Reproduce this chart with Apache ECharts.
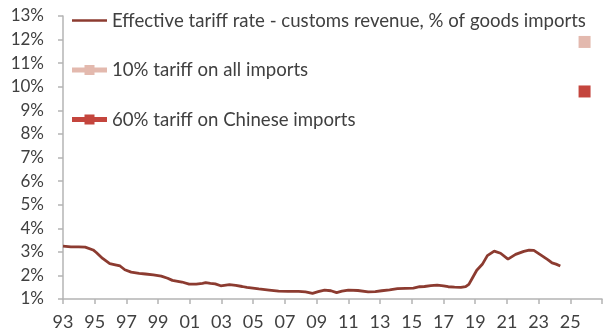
<!DOCTYPE html>
<html>
<head>
<meta charset="utf-8">
<script src="https://cdn.jsdelivr.net/npm/echarts@6/dist/echarts.min.js"></script>
<style>
  html, body { margin: 0; padding: 0; background: #ffffff; }
  #chart { width: 605px; height: 336px; }
</style>
</head>
<body>
<div id="chart"></div>
<script>
// Effective US tariff rate (customs revenue as % of goods imports), by year fraction
const rateYears = [
  1993.0, 1993.5, 1994.0, 1994.4, 1994.9, 1995.1, 1995.5, 1995.95, 1996.3, 1996.6,
  1996.9, 1997.3, 1997.8, 1998.2, 1998.7, 1999.2, 1999.6, 1999.9, 2000.5, 2000.96,
  2001.4, 2001.8, 2002.0, 2002.3, 2002.6, 2002.95, 2003.5, 2003.9, 2004.3, 2004.6,
  2005.35, 2006.0, 2006.6, 2007.2, 2007.86, 2008.3, 2008.74, 2009.1, 2009.5, 2009.9,
  2010.26, 2010.6, 2011.0, 2011.6, 2012.25, 2012.7, 2013.1, 2013.6, 2014.1, 2014.6,
  2015.1, 2015.5, 2015.8, 2016.2, 2016.6, 2017.0, 2017.3, 2017.7, 2018.1, 2018.4,
  2018.6, 2018.8, 2019.1, 2019.45, 2019.77, 2020.2, 2020.6, 2021.07, 2021.55, 2022.07,
  2022.4, 2022.7, 2023.2, 2023.6, 2023.85, 2024.1, 2024.37
];
const rateValues = [
  3.24, 3.21, 3.21, 3.20, 3.08, 2.97, 2.72, 2.50, 2.45, 2.40,
  2.24, 2.14, 2.09, 2.06, 2.02, 1.97, 1.88, 1.79, 1.72, 1.63,
  1.63, 1.66, 1.69, 1.66, 1.64, 1.56, 1.61, 1.58, 1.53, 1.49,
  1.43, 1.38, 1.33, 1.32, 1.32, 1.30, 1.24, 1.31, 1.38, 1.35,
  1.27, 1.33, 1.38, 1.36, 1.30, 1.31, 1.35, 1.39, 1.44, 1.45,
  1.46, 1.52, 1.53, 1.57, 1.59, 1.56, 1.52, 1.50, 1.49, 1.52,
  1.62, 1.86, 2.22, 2.47, 2.84, 3.03, 2.94, 2.69, 2.89, 3.02,
  3.07, 3.06, 2.84, 2.66, 2.53, 2.48, 2.40
];

// Scenario estimates
const scenarioYear = 2025.9;
const allImportsValue = 11.9;
const chinaImportsValue = 9.8;

const seriesNames = [
  'Effective tariff rate - customs revenue, % of goods imports',
  '10% tariff on all imports',
  '60% tariff on Chinese imports'
];

// Axis settings
const xMin = 1993, xMax = 2027, xStep = 2;
const yMin = 1, yMax = 13, yStep = 1;

const textColor = '#404040';
const axisColor = '#b4b4b4';
const fontFamily = 'Lato, "DejaVu Sans", sans-serif';

const chart = echarts.init(document.getElementById('chart'), null, { renderer: 'canvas' });

const lineIcon = 'path://M0,0 L35,0 L35,2.5 L0,2.5 Z';
const markerIcon = 'path://M0,2.5 L35,2.5 L35,7.5 L0,7.5 Z M12.5,0 L22.5,0 L22.5,10 L12.5,10 Z';

chart.setOption({
  animation: false,
  backgroundColor: '#ffffff',
  textStyle: { fontFamily: fontFamily },
  grid: { left: 63, right: 1, top: 16, bottom: 37, containLabel: false },
  legend: {
    orient: 'vertical',
    left: 72,
    top: 11,
    itemWidth: 35,
    itemHeight: 10,
    itemGap: 30.5,
    padding: 0,
    textStyle: { color: textColor, fontSize: 18.6, fontFamily: fontFamily },
    data: [
      { name: seriesNames[0], icon: lineIcon },
      { name: seriesNames[1], icon: markerIcon },
      { name: seriesNames[2], icon: markerIcon }
    ]
  },
  xAxis: {
    type: 'value',
    min: xMin,
    max: xMax,
    interval: xStep,
    splitLine: { show: false },
    axisLine: { lineStyle: { color: axisColor, width: 1.5 } },
    axisTick: { show: true, length: 5, lineStyle: { color: axisColor, width: 1.5 } },
    axisLabel: {
      color: textColor,
      fontSize: 18,
      margin: 14,
      formatter: function (v) {
        if (v >= xMax) return '';
        return String(Math.round(v) % 100).padStart(2, '0');
      }
    }
  },
  yAxis: {
    type: 'value',
    min: yMin,
    max: yMax,
    interval: yStep,
    splitLine: { show: false },
    axisLine: { show: true, lineStyle: { color: axisColor, width: 1.5 } },
    axisTick: { show: true, length: 5, lineStyle: { color: axisColor, width: 1.5 } },
    axisLabel: {
      color: textColor,
      fontSize: 17,
      margin: 19,
      formatter: function (v) { return v + '%'; }
    }
  },
  series: [
    {
      name: seriesNames[0],
      type: 'line',
      data: rateYears.map(function (y, i) { return [y, rateValues[i]]; }),
      symbol: 'none',
      color: '#8c3b30',
      lineStyle: { color: '#8c3b30', width: 2.8 }
    },
    {
      name: seriesNames[1],
      type: 'scatter',
      data: [[scenarioYear, allImportsValue]],
      symbol: 'rect',
      symbolSize: 12,
      color: '#e3b9ae',
      itemStyle: { color: '#e3b9ae', opacity: 1 }
    },
    {
      name: seriesNames[2],
      type: 'scatter',
      data: [[scenarioYear, chinaImportsValue]],
      symbol: 'rect',
      symbolSize: 12,
      color: '#c4453d',
      itemStyle: { color: '#c4453d', opacity: 1 }
    }
  ]
});
</script>
</body>
</html>
